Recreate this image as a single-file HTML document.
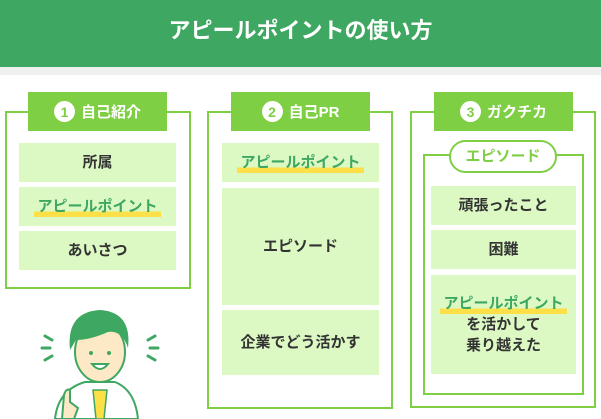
<!DOCTYPE html>
<html><head><meta charset="utf-8"><style>
*{margin:0;padding:0;box-sizing:border-box}
body{width:601px;height:419px;overflow:hidden;background:#fff;font-family:"Liberation Sans","Noto Sans CJK JP",sans-serif;position:relative}
.a{position:absolute}
.hd{left:0;top:0;width:601px;height:67px;background:#3ea862;color:#fff;font-size:22px;font-weight:bold;text-align:center;line-height:62px}
.st{left:0;top:67px;width:601px;height:8px;background:#f0f0f0}
.box{border:2px solid #7fcf45}
.tab{background:#7fcf45;color:#fff;font-size:15px;font-weight:bold;display:flex;align-items:center;justify-content:center;gap:6px}
.num{width:21px;height:21px;border-radius:50%;background:#fff;color:#7fcf45;font-size:14px;display:flex;align-items:center;justify-content:center}
.it{background:#dcf9c4;color:#333;font-size:15px;font-weight:bold;display:flex;align-items:center;justify-content:center;text-align:center;line-height:21px;flex-direction:column}
.g{color:#3ea862;background:linear-gradient(transparent 75%,#fde047 75%);padding:0 3px}
</style></head><body>
<div class="a hd">アピールポイントの使い方</div>
<div class="a st"></div>

<div class="a box" style="left:5px;top:111px;width:186px;height:178px"></div>
<div class="a tab" style="left:28px;top:92px;width:139px;height:39px"><span class="num">1</span>自己紹介</div>
<div class="a it" style="left:19px;top:143px;width:157px;height:39px">所属</div>
<div class="a it" style="left:19px;top:187px;width:157px;height:39px"><span class="g">アピールポイント</span></div>
<div class="a it" style="left:19px;top:231px;width:157px;height:39px">あいさつ</div>

<div class="a box" style="left:207px;top:111px;width:186px;height:298px"></div>
<div class="a tab" style="left:231px;top:92px;width:139px;height:39px"><span class="num">2</span>自己PR</div>
<div class="a it" style="left:222px;top:143px;width:157px;height:39px"><span class="g">アピールポイント</span></div>
<div class="a it" style="left:222px;top:188px;width:157px;height:117px">エピソード</div>
<div class="a it" style="left:222px;top:310px;width:157px;height:65px">企業でどう活かす</div>

<div class="a box" style="left:410px;top:111px;width:186px;height:297px"></div>
<div class="a tab" style="left:434px;top:92px;width:139px;height:39px"><span class="num">3</span>ガクチカ</div>
<div class="a box" style="left:423px;top:154px;width:161px;height:241px;border-width:2px"></div>
<div class="a" style="left:449px;top:140px;width:108px;height:33px;border:2px solid #7fcf45;border-radius:17px;background:#fff;color:#7fcf45;font-size:15px;font-weight:bold;text-align:center;line-height:29px">エピソード</div>
<div class="a it" style="left:431px;top:186px;width:145px;height:39px">頑張ったこと</div>
<div class="a it" style="left:431px;top:230px;width:145px;height:39px">困難</div>
<div class="a it" style="left:431px;top:275px;width:145px;height:99px"><span class="g">アピールポイント</span><span>を活かして</span><span>乗り越えた</span></div>

<svg class="a" style="left:0;top:290px" width="200" height="129" viewBox="0 0 200 129">
<g stroke="#3ea862" stroke-width="3" stroke-linecap="round">
<line x1="45" y1="46" x2="52" y2="50"/><line x1="42" y1="58" x2="50" y2="58"/><line x1="45" y1="70" x2="52" y2="66"/>
<line x1="155" y1="46" x2="148" y2="50"/><line x1="158" y1="58" x2="150" y2="58"/><line x1="155" y1="70" x2="148" y2="66"/>
</g>
<path d="M55 129 Q58 100 85 92 L115 92 Q135 100 138 129Z" fill="#fff" stroke="#3ea862" stroke-width="2"/>
<path d="M93 100 L107 100 L104 129 L96 129Z" fill="#fde047" stroke="#3ea862" stroke-width="1.5"/>
<ellipse cx="100" cy="62" rx="25" ry="30" fill="#fde9c6" stroke="#3ea862" stroke-width="2"/>
<path d="M70 60 Q66 22 100 20 Q132 22 128 58 Q122 40 108 42 Q90 50 76 50Z" fill="#3ea862"/>
<circle cx="91" cy="63" r="2" fill="#3ea862"/><circle cx="109" cy="63" r="2" fill="#3ea862"/>
<path d="M92 74 Q100 84 108 74Z" fill="#fff" stroke="#3ea862" stroke-width="2"/>
<path d="M62 129 L64 105 Q66 98 70 100 L70 112 L78 118 L74 129Z" fill="#fde9c6" stroke="#3ea862" stroke-width="2"/>
</svg>
</body></html>
